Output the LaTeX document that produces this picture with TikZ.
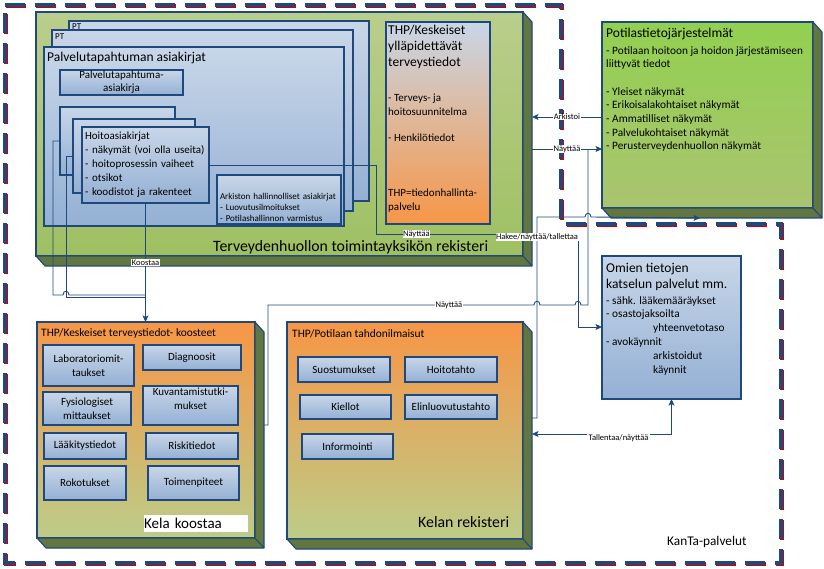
\documentclass[tikz,border=0pt]{standalone}
\usepackage{fontspec}
\setmainfont{Carlito}
\usepackage{tikz}
\usetikzlibrary{calc}
\usetikzlibrary{arrows.meta}
\usetikzlibrary{positioning}

\definecolor{kanta}{RGB}{31,73,125}
\definecolor{bluetop}{RGB}{200,214,232}
\definecolor{bluebot}{RGB}{148,176,212}
\definecolor{regtop}{RGB}{186,206,140}
\definecolor{regbot}{RGB}{158,192,98}
\definecolor{ptjtop}{RGB}{146,208,80}
\definecolor{ptjbot}{RGB}{170,196,112}
\definecolor{orangetop}{RGB}{247,150,70}
\definecolor{orangebot}{RGB}{188,204,136}
\definecolor{side}{RGB}{98,118,64}

\tikzset{
  wh/.style 2 args={minimum width=#1pt, minimum height=#2pt},
  box/.style={draw=kanta, line width=1.1pt, anchor=north west, inner sep=0pt, outer sep=0pt},
  bluebox/.style={box, top color=bluetop, bottom color=bluebot},
  greenbox/.style={box, top color=regtop, bottom color=regbot},
  brightbox/.style={box, top color=ptjtop, bottom color=ptjbot},
  orangebox/.style={box, top color=orangetop, bottom color=orangebot},
  thpbox/.style={box, top color=bluetop, bottom color=orangetop},
  itembox/.style={bluebox, align=center, font=\fontsize{11}{14}\selectfont},
  face/.style={fill=side, draw=kanta, line width=1.1pt, line join=round},
  txt/.style={inner sep=0pt, align=left},
  conn/.style={draw=kanta, line width=0.9pt, >={Stealth[length=6.5pt,width=6pt,inset=1.5pt]}},
  tag/.style={fill=white, inner sep=0.5pt, font=\fontsize{8.5}{9}\selectfont},
  kantaline/.style={draw=kanta, line width=3.5pt, dash pattern=on 20pt off 10pt},
}

\begin{document}
\begin{tikzpicture}[x=1pt,y=-1pt]
\useasboundingbox (0,0) rectangle (824,569);

\draw[kantaline, draw=red!80!black, transform canvas={shift={(1pt,-1pt)}}] (5,5) -- (561,5) -- (561,224) -- (781,224) -- (781,563) -- (5,563) -- cycle;
\draw[kantaline] (5,5) -- (561,5) -- (561,224) -- (781,224) -- (781,563) -- (5,563) -- cycle;

\node[greenbox, wh={487}{244}] (reg) at (36,12) {};
\node[brightbox, wh={211}{186}] (ptj) at (602,22) {};
\node[orangebox, wh={218}{216}] (koos) at (37,322) {};
\node[orangebox, wh={236}{217}] (kela) at (287,322) {};
\foreach \b in {reg,ptj,koos,kela} {
  \filldraw[face] (\b.north east) -- ++(9,10) -- ($(\b.south east)+(9,10)$) -- ($(\b.south west)+(9,10)$) -- (\b.south west) -- (\b.south east) -- cycle;
  \draw[face] (\b.south east) -- ++(9,10);
}
\coordinate (regface) at ($(reg.north east)+(9,0)$);
\coordinate (koosface) at ($(koos.north east)+(9,0)$);
\coordinate (kelaface) at ($(kela.north east)+(9,0)$);
\coordinate (ptjfoot) at ($(ptj.south west)+(98,10)$);

\node[bluebox, wh={300}{180}] (pt2) at (69,21) {};
\node[bluebox, wh={301}{181}] (pt1) at (52,30) {};
\node[bluebox, wh={300}{179}] (pta) at (44,47) {};
\node[itembox, wh={123}{25}, font=\fontsize{11}{13}\selectfont] (pta1) at (60,70) {Palvelutapahtuma-\\asiakirja};
\node[bluebox, wh={115}{68}] (hb2) at (60,107) {};
\node[bluebox, wh={122}{74}] (hb1) at (73,119) {};
\node[bluebox, align=left, text width=121pt, inner sep=3pt, minimum height=76pt, font=\fontsize{11}{14}\selectfont] (hoito) at (82,127) {Hoitoasiakirjat\\- näkymät (voi olla useita)\\- hoitoprosessin vaiheet\\- otsikot\\- koodistot ja rakenteet};
\node[bluebox, align=left, text width=118pt, inner sep=3pt, minimum height=49pt, text depth=6pt, font=\fontsize{9}{11}\selectfont] (ark) at (217,175) {Arkiston hallinnolliset asiakirjat\\- Luovutusilmoitukset\\- Potilashallinnon varmistus};
\node[thpbox, wh={104}{202}] (thp) at (386,22) {};
\node[bluebox, wh={139}{143}] (omien) at (602,256) {};

\node[itembox, wh={91}{41}] (lab) at (43,345) {Laboratoriomit-\\taukset};
\node[itembox, wh={98}{25}] (diag) at (143,345) {Diagnoosit};
\node[itembox, wh={88}{33}] (fys) at (43,392) {Fysiologiset\\mittaukset};
\node[itembox, wh={95}{39}, text depth=13pt] (kuv) at (143,386) {Kuvantamistutki-\\mukset};
\node[itembox, wh={82}{26}] (laak) at (44,433) {Lääkitystiedot};
\node[itembox, wh={92}{26}] (risk) at (146,433) {Riskitiedot};
\node[itembox, wh={82}{34}] (rok) at (44,466) {Rokotukset};
\node[itembox, wh={91}{34}] (toim) at (148,466) {Toimenpiteet};
\node[fill=white, anchor=north west, inner sep=0pt, text width=104pt, minimum height=17pt, font=\fontsize{15}{16}\selectfont] (kelakoostaa) at (144,515) {Kela koostaa};

\node[itembox, wh={92}{25}] (suo) at (298,357) {Suostumukset};
\node[itembox, wh={92}{25}] (hoitot) at (405,357) {Hoitotahto};
\node[itembox, wh={91}{24}] (kiel) at (300,395) {Kiellot};
\node[itembox, wh={92}{24}] (elin) at (405,395) {Elinluovutustahto};
\node[itembox, wh={91}{25}] (info) at (302,434) {Informointi};

\node[txt, anchor=base west, font=\fontsize{9}{10}\selectfont] (ptlab2) at (72,30) {PT};
\node[txt, anchor=base west, font=\fontsize{9}{10}\selectfont] (ptlab1) at (55,40) {PT};
\node[txt, anchor=base west, font=\fontsize{13.5}{16}\selectfont] (ptatitle) at (47,62) {Palvelutapahtuman asiakirjat};
\node[txt, anchor=base west, font=\fontsize{15.8}{18}\selectfont] (reglab) at (213,252) {Terveydenhuollon toimintayksikön rekisteri};
\node[txt, anchor=north west, font=\fontsize{13.5}{16}\selectfont] (thptitle) at (388,25) {THP/Keskeiset\\ylläpidettävät\\terveystiedot};
\node[txt, anchor=north west, font=\fontsize{11}{14}\selectfont] (thptext1) at (388,93.5) {- Terveys- ja\\hoitosuunnitelma};
\node[txt, anchor=base west, font=\fontsize{11}{14}\selectfont] (thptext2) at (388,142) {- Henkilötiedot};
\node[txt, anchor=north west, font=\fontsize{11}{14}\selectfont] (thptext3) at (388,189) {THP=tiedonhallinta-\\palvelu};
\node[txt, anchor=base west, font=\fontsize{13.5}{16}\selectfont] (ptjtitle) at (606,38) {Potilastietojärjestelmät};
\node[txt, anchor=north west, font=\fontsize{11.3}{13.7}\selectfont] (ptjtext) at (606,46) {- Potilaan hoitoon ja hoidon järjestämiseen\\liittyvät tiedot\\[13.7pt]- Yleiset näkymät\\- Erikoisalakohtaiset näkymät\\- Ammatilliset näkymät\\- Palvelukohtaiset näkymät\\- Perusterveydenhuollon näkymät};
\node[txt, anchor=north west, font=\fontsize{13.5}{15.5}\selectfont] (omientitle) at (606,263) {Omien tietojen\\katselun palvelut mm.};
\node[txt, anchor=north west, font=\fontsize{11.3}{13.8}\selectfont] (omientext) at (606,296) {- sähk. lääkemääräykset\\- osastojaksoilta\\\hspace*{47pt}yhteenvetotaso\\- avokäynnit\\\hspace*{47pt}arkistoidut\\\hspace*{47pt}käynnit};
\node[txt, anchor=base west, font=\fontsize{11.4}{13}\selectfont] (koostitle) at (41,336) {THP/Keskeiset terveystiedot- koosteet};
\node[txt, anchor=base west, font=\fontsize{11.4}{13}\selectfont] (kelatitle) at (292,337) {THP/Potilaan tahdonilmaisut};
\node[txt, anchor=base west, font=\fontsize{15.8}{18}\selectfont] (kelalab) at (418,527) {Kelan rekisteri};
\node[txt, anchor=base west, font=\fontsize{13.3}{15}\selectfont] (kantalab) at (667,545) {KanTa-palvelut};

\draw[conn,->] (hoito.south) -- node[tag]{Koostaa} (hoito.south |- koos.north);
\draw[conn] (hb2.west) -| (53,295) -- (63,295) .. controls (63,290) and (69,290) .. (69,295) -- (hoito.south |- 0,295);
\draw[conn] (hb1.west) -| (66,297) -- (hoito.south |- 0,297);
\draw[conn,->] (ptj.west |- 0,117) -- node[tag]{Arkistoi} (regface |- 0,117);
\draw[conn,->] (regface |- 0,149) -- node[tag]{Näyttää} (ptj.west |- 0,149);
\draw[conn] (koosface |- 0,425) -| (268,305) -- node[tag, pos=0.68]{Näyttää} (534,305) .. controls (534,300) and (540,300) .. (540,305) -- (575,305) .. controls (575,300) and (581,300) .. (581,305) -| (588,149);
\draw[conn,->] (hoito.east) -| (376,234) -- node[tag, pos=0.2]{Näyttää} (578,234) |- (omien.west |- 0,327);
\draw[conn,->] (kelaface |- 0,418) -| node[tag, pos=0.95]{Hakee/näyttää/tallettaa} (537,217) -- (585,217) .. controls (585,212) and (591,212) .. (591,217) -- (ptjfoot);
\draw[conn,<->] (kelaface |- 0,434) -| node[tag, pos=0.31, yshift=-4pt, inner sep=2pt]{Tallentaa/näyttää} (omien.south);
\end{tikzpicture}
\end{document}
